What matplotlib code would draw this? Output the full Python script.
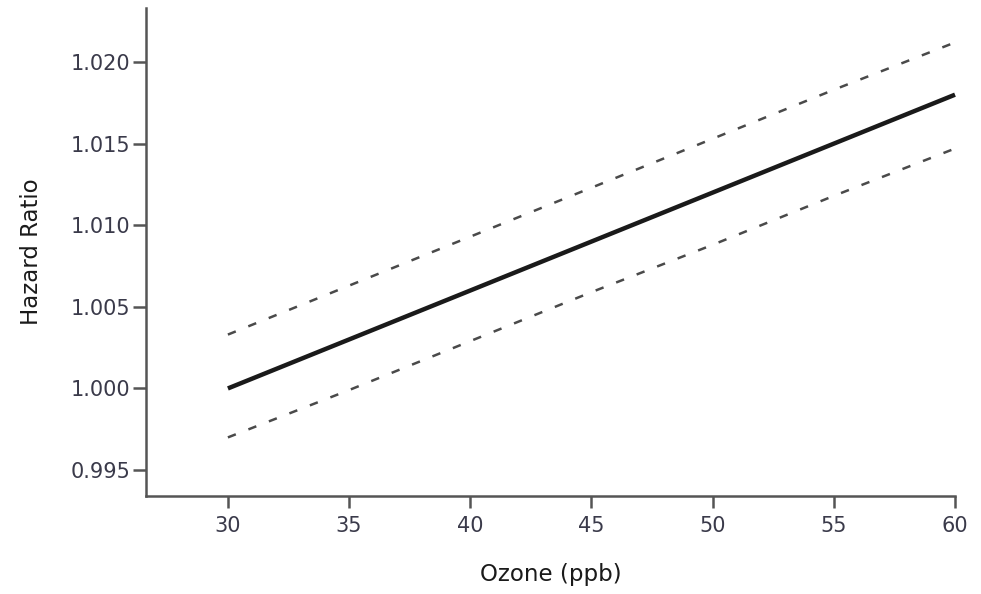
import matplotlib
matplotlib.use("Agg")
import matplotlib.pyplot as plt

ozone = [30, 35, 40, 45, 50, 55, 60]
hazard_ratio = [1.000, 1.003, 1.006, 1.009, 1.012, 1.015, 1.018]
upper_ci = [1.0033, 1.0063, 1.0093, 1.0123, 1.0153, 1.0183, 1.0212]
lower_ci = [0.9970, 0.9999, 1.0029, 1.0059, 1.0088, 1.0118, 1.0147]
x_ticks = [30, 35, 40, 45, 50, 55, 60]
y_ticks = [0.995, 1.000, 1.005, 1.010, 1.015, 1.020]
y_tick_labels = ["0.995", "1.000", "1.005", "1.010", "1.015", "1.020"]

fig = plt.figure(figsize=(9.81, 5.94), dpi=100)
ax = fig.add_axes([0.1493, 0.165, 0.9735 - 0.1493, 0.9865 - 0.165])

ax.plot(ozone, hazard_ratio, color="#1a1a1a", lw=3.2, solid_capstyle="butt", clip_on=False)
for ci in (upper_ci, lower_ci):
    ax.plot(ozone, ci, color="#4a4a4a", lw=1.8, dashes=(3.4, 5.4), clip_on=False)

ax.set_xlim(26.64, 60)
ax.set_ylim(0.99341, 1.02331)
ax.set_xticks(x_ticks)
ax.set_yticks(y_ticks)
ax.set_yticklabels(y_tick_labels)

for s in ("top", "right"):
    ax.spines[s].set_visible(False)
for s in ("left", "bottom"):
    ax.spines[s].set_color("#555555")
    ax.spines[s].set_linewidth(1.8)

ax.tick_params(axis="both", colors="#555555", width=1.8, labelcolor="#3a3a4a", labelsize=15)
ax.tick_params(axis="y", length=9.4, pad=2)
ax.tick_params(axis="x", length=8.6, pad=6)

ax.set_xlabel("Ozone (ppb)", fontsize=16.5, color="#1a1a1a", labelpad=19)
ax.set_ylabel("Hazard Ratio", fontsize=16.5, color="#1a1a1a", labelpad=20)

fig.savefig("out.png", dpi=100)
